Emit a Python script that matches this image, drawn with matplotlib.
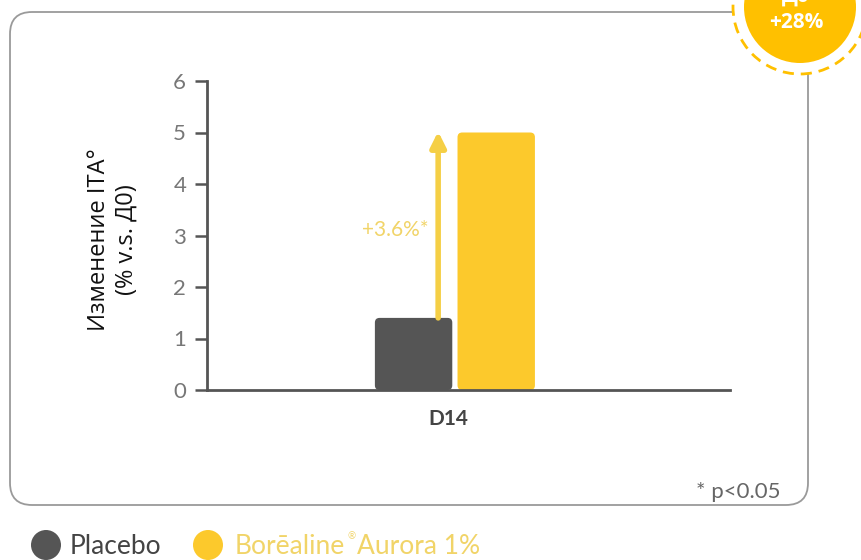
import numpy as np
import matplotlib
matplotlib.use("Agg")
import matplotlib.pyplot as plt
from matplotlib.patches import FancyBboxPatch, Circle

plt.rcParams['font.family'] = ['Lato', 'DejaVu Sans']

# данные
categories = ["D14"]
groups = ["Placebo", "Borēaline® Aurora 1%"]
values = [1.4, 5.0]
yticks = [0, 1, 2, 3, 4, 5, 6]
delta_label = "+3.6%*"
badge_label = "+28%"

c_placebo = "#555555"
c_aurora = "#FCC92C"
c_soft = "#F1D468"

W, H = 861, 560
fig = plt.figure(figsize=(W / 100, H / 100), dpi=100)

# фон в пиксельных координатах
bg = fig.add_axes([0, 0, 1, 1], zorder=0)
bg.set_xlim(0, W)
bg.set_ylim(H, 0)
bg.axis("off")

frame = FancyBboxPatch((10, 12), 798, 493, boxstyle="round,pad=0,rounding_size=22",
                       fc="white", ec="#9a9a9a", lw=1.3)
bg.add_patch(frame)

# значок в углу
bg.add_patch(Circle((800, 7), 67, fc="white", ec="#FFC000", lw=2, ls=(0, (4, 2.5))))
bg.add_patch(Circle((800, 7), 56, fc="#FFC000", ec="none"))
bg.text(796, 22, badge_label, color="white", fontsize=15, fontweight="bold",
        ha="center", va="center", family=["Open Sans", "DejaVu Sans"])
bg.text(796, -4, "Д0", color="white", fontsize=15, fontweight="bold",
        ha="center", va="center", family=["Open Sans", "DejaVu Sans"])

bg.text(781, 492, "* p<0.05", color="#666666", fontsize=16, ha="right", va="center")

# легенда
bg.add_patch(Circle((46, 545), 15, fc=c_placebo, ec="none"))
bg.text(70, 546, groups[0], color="#444444", fontsize=19, va="center")
bg.add_patch(Circle((208, 545), 15, fc=c_aurora, ec="none"))
bg.text(235, 547, "Borēaline", color=c_soft, fontsize=19, va="center")
bg.text(347, 537, "®", color=c_soft, fontsize=7, va="center")
bg.text(357, 547, "Aurora 1%", color=c_soft, fontsize=19, va="center")

# основной график
ax = fig.add_axes([207 / W, 1 - 390 / H, 523 / W, 309 / H], zorder=1)
ax.patch.set_alpha(0)
ax.set_xlim(0, 1)
ax.set_ylim(0, 6)

center = 0.474
offsets = [-0.079, 0.079]
width = 0.148
aspect = (6 / 309) / (1 / 523)
for off, v, col in zip(offsets, values, [c_placebo, c_aurora]):
    ax.add_patch(FancyBboxPatch((center + off - width / 2, 0), width, v,
                                boxstyle="round,pad=0,rounding_size=0.009",
                                mutation_aspect=aspect, fc=col, ec="none", zorder=2))

ax_x = 0.442
ax.annotate("", xy=(ax_x, values[1] + 0.02), xytext=(ax_x, values[0]),
            arrowprops=dict(arrowstyle="-|>,head_length=0.9,head_width=0.45",
                            color="#F5CF45", lw=4, shrinkA=0, shrinkB=0), zorder=3)
ax.text(0.36, 3.1, delta_label, color=c_soft, fontsize=15, ha="center", va="center")

ax.set_yticks(yticks)
ax.set_xticks([center - 0.012])
ax.set_xticklabels(categories, fontsize=15, color="#444444", fontweight="bold")
ax.tick_params(axis="x", length=0, pad=14)
ax.tick_params(axis="y", length=9, width=1.8, color="#555555", labelcolor="#777777",
               labelsize=16, pad=6)
for s in ["top", "right"]:
    ax.spines[s].set_visible(False)
ax.spines["left"].set_color("#555555")
ax.spines["left"].set_linewidth(2)
ax.spines["bottom"].set_color("#555555")
ax.spines["bottom"].set_linewidth(2)

fig.text(113 / W, 1 - 240 / H, "Изменение ITA°\n(% v.s. Д0)", rotation=90,
         ha="center", va="center", fontsize=17, color="#111111",
         family=["Open Sans", "DejaVu Sans"], linespacing=1.2)

fig.savefig("out.png", dpi=100)
